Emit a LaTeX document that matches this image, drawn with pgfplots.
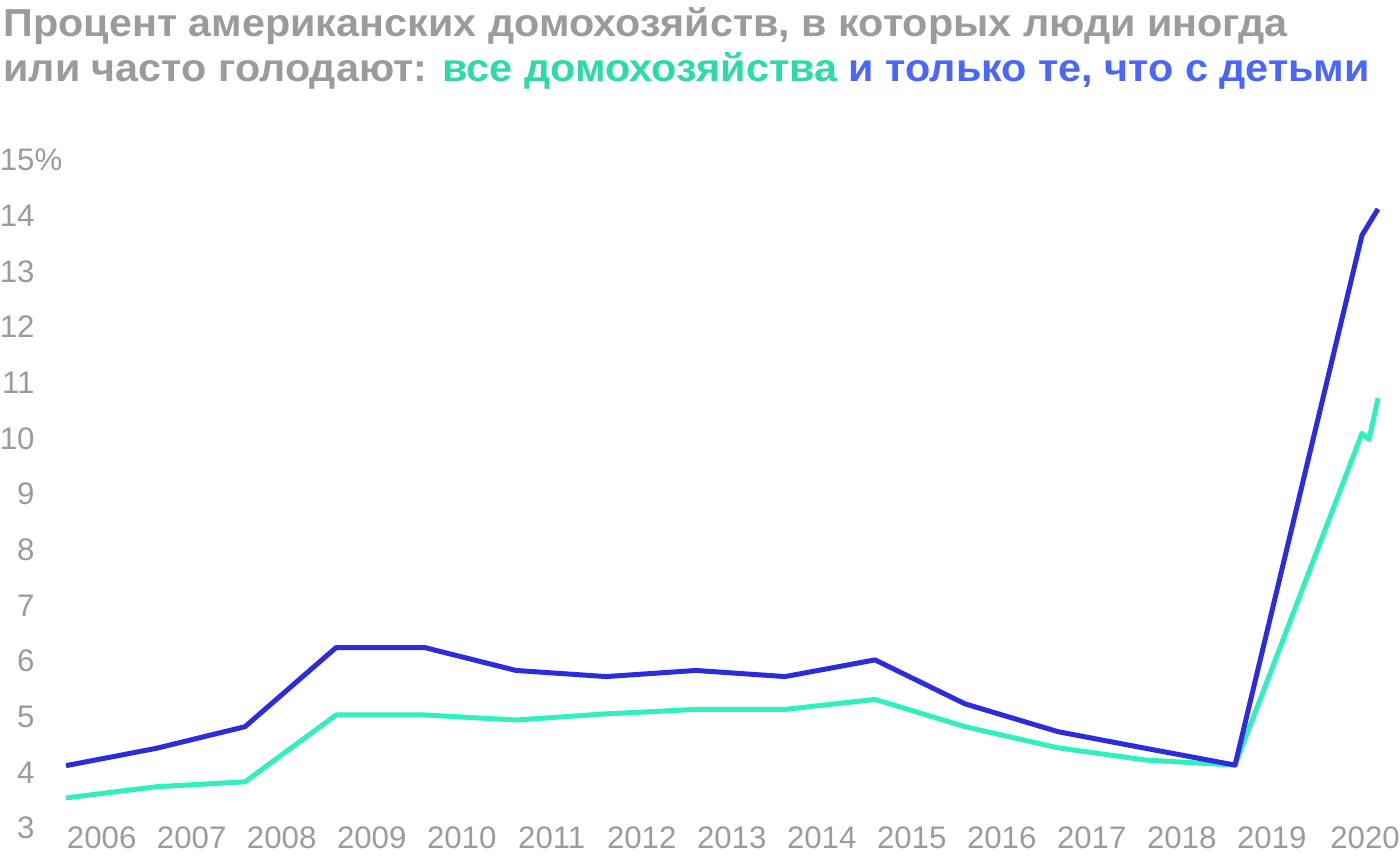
\documentclass[border=0pt]{standalone}
\usepackage{pgfplots}
\pgfplotsset{compat=1.18}
\usepackage{fontspec}
\setmainfont{Liberation Sans}
\newfontfamily\titlefont[FakeStretch=1.06]{Liberation Sans}
\definecolor{tgray}{HTML}{9B9B9B}
\definecolor{tgreen}{HTML}{2DDBA8}
\definecolor{tblue}{HTML}{4A66FF}
\definecolor{lgreen}{HTML}{30F0C0}
\definecolor{lblue}{HTML}{2C2CDD}
\begin{document}
\begin{tikzpicture}
\path[use as bounding box] (0,0) rectangle (700pt,430pt);
\node[anchor=base west, inner sep=0pt, text=tgray, font=\titlefont\fontsize{19.5}{22}\selectfont\bfseries] at (1.5pt,411.5pt) {Процент американских домохозяйств, в которых люди иногда};
\node[anchor=base west, inner sep=0pt, font=\titlefont\fontsize{19.5}{22}\selectfont\bfseries] at (1.5pt,389pt) {\textcolor{tgray}{или часто голодают:} \textcolor{tgreen}{все домохозяйства} \textcolor{tblue}{и только те, что с детьми}};
\begin{axis}[
  at={(33pt,16pt)}, anchor=south west,
  scale only axis, width=656pt, height=334pt,
  xmin=66, xmax=1378, ymin=3, ymax=15,
  clip=false,
  axis line style={draw=none},
  major tick length=0pt,
  /pgf/number format/assume math mode=true,
  xtick={101.7,191.7,281.7,371.7,461.7,551.7,641.7,731.7,821.7,911.7,1001.7,1091.7,1181.7,1271.7,1365},
  xticklabels={2006,2007,2008,2009,2010,2011,2012,2013,2014,2015,2016,2017,2018,2019,2020},
  ytick={3,4,5,6,7,8,9,10,11,12,13,14,15},
  yticklabels={3,4,5,6,7,8,9,10,11,12,13,14,15\rlap{\%}},
  xticklabel style={anchor=center, inner sep=0pt, yshift=-5pt, font=\fontsize{15.6}{17}\selectfont, text=tgray},
  yticklabel style={anchor=east, inner sep=0pt, xshift=-15.5pt, font=\fontsize{15.6}{17}\selectfont, text=tgray},
]
\addplot[lgreen, line width=2.5pt, line join=round] coordinates {
(66,3.54) (156,3.74) (245,3.83) (336,5.03) (425,5.03) (516,4.94) (606,5.05) (696,5.13) (785,5.13) (875,5.31) (965,4.82) (1058,4.44) (1146,4.22) (1235,4.13) (1362,10.09) (1369,9.98) (1378,10.72)
};
\addplot[lblue, line width=2.5pt, line join=round] coordinates {
(66,4.12) (156,4.43) (245,4.82) (336,6.24) (425,6.24) (516,5.83) (606,5.72) (696,5.83) (785,5.72) (875,6.02) (965,5.23) (1058,4.73) (1146,4.43) (1235,4.13) (1362,13.65) (1378,14.12)
};
\end{axis}
\end{tikzpicture}
\end{document}
